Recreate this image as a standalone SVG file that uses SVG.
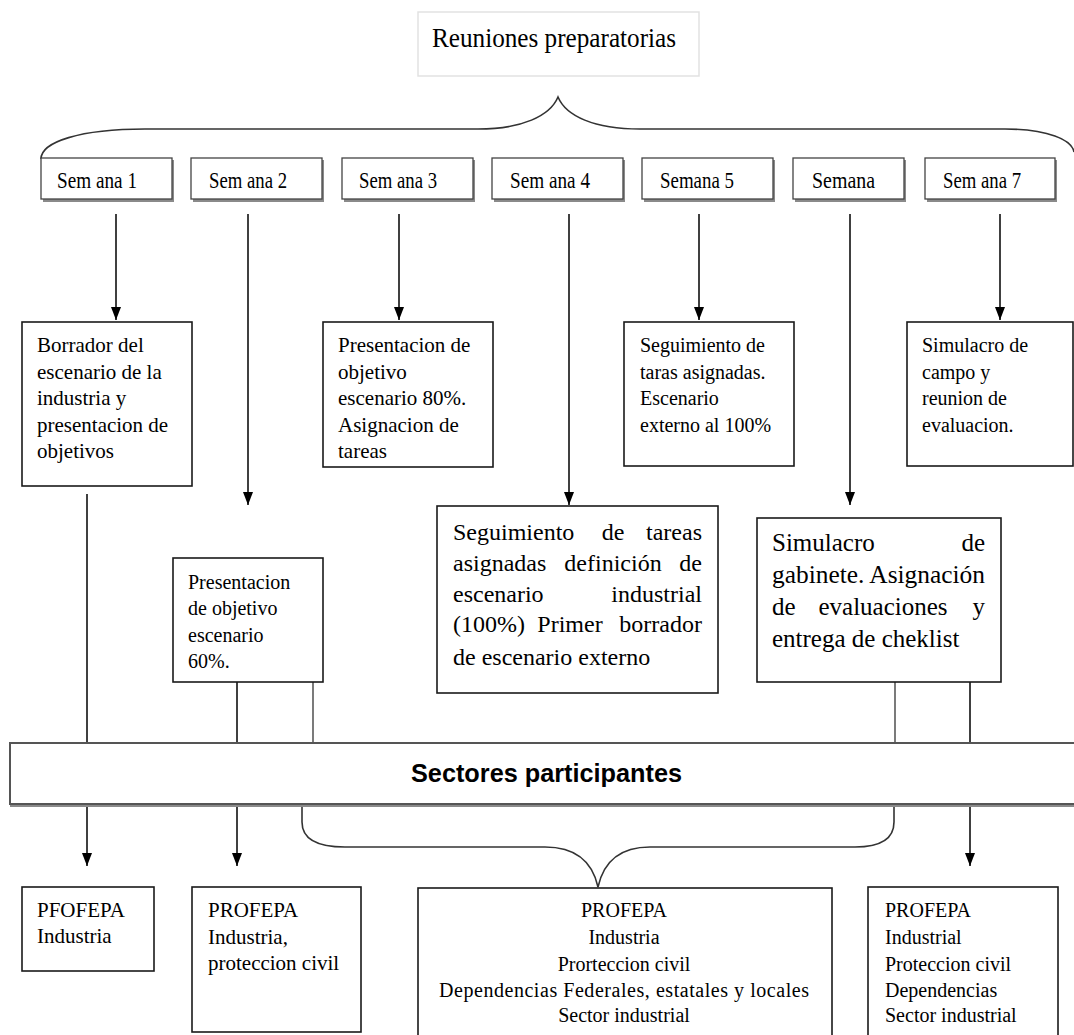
<svg xmlns="http://www.w3.org/2000/svg" width="1074" height="1035" viewBox="0 0 1074 1035">
<defs>
<marker id="ah" viewBox="0 0 13 10" refX="13" refY="5" markerWidth="13" markerHeight="10" markerUnits="userSpaceOnUse" orient="auto">
<path d="M0,0 L13,5 L0,10 z" fill="#000"/>
</marker>
<style>
.box{fill:#fff;stroke:#1a1a1a;stroke-width:1.6}
.wk{fill:#fff;stroke:#444;stroke-width:1.3}
.sh{fill:#8a8a8a}
.t{font-family:"Liberation Serif","Times New Roman",serif;fill:#000}
.s21{font-size:21px}
.s20{font-size:20px}
.s24{font-size:24px}
.s25{font-size:25px}
.wl{font-size:24px}
.mid{text-anchor:middle}
.end{text-anchor:end}
.conn path{fill:none;stroke:#000;stroke-width:1.5}
.conn path.arr{marker-end:url(#ah)}
.conn path.brace{stroke:#333;stroke-width:1.6}
</style>
</defs>
<rect width="1074" height="1035" fill="#fff"/>

<g id="connectors" class="conn">
<path class="brace" d="M41,159 C41,142 80,129 145,129 L478,129 C522,129 550,116 558,97 C566,116 594,129 640,129 L1005,129 C1048,129 1072,140 1074,152"/>
<path class="arr" d="M116,214 V320"/>
<path class="arr" d="M248,214 V505"/>
<path class="arr" d="M399,214 V320"/>
<path class="arr" d="M569,214 V505"/>
<path class="arr" d="M699,214 V320"/>
<path class="arr" d="M850,214 V505"/>
<path class="arr" d="M1000,214 V320"/>
<path class="arr" d="M87,494 V866"/>
<path class="arr" d="M237,682 V866"/>
<path class="arr" d="M970,682 V866"/>
<path d="M313,682 V743" style="stroke:#333;stroke-width:1.3"/>
<path d="M895,682 V743" style="stroke:#333;stroke-width:1.3"/>
<path class="brace" d="M302,805 L302,822 C302,839 318,847 345,847 L545,847 C574,847 592,860 598,887 C604,860 622,847 650,847 L855,847 C880,847 894,839 894,822 L894,805"/>
</g>

<g id="reuniones">
<rect x="418" y="12" width="281" height="64" fill="#fff" stroke="#e2e2e2" stroke-width="1.5"/>
<text class="t" x="432" y="47" font-size="27" textLength="244" lengthAdjust="spacingAndGlyphs">Reuniones preparatorias</text>
</g>

<g id="semana1">
<rect class="sh" x="43" y="160" width="131" height="42"/>
<rect class="wk" x="41" y="158" width="131" height="41"/>
<text class="t wl" x="57" y="188" textLength="80" lengthAdjust="spacingAndGlyphs">Sem ana 1</text>
</g>
<g id="semana2">
<rect class="sh" x="193" y="160" width="131" height="42"/>
<rect class="wk" x="191" y="158" width="131" height="41"/>
<text class="t wl" x="209" y="188" textLength="78" lengthAdjust="spacingAndGlyphs">Sem ana 2</text>
</g>
<g id="semana3">
<rect class="sh" x="344" y="160" width="131" height="42"/>
<rect class="wk" x="342" y="158" width="131" height="41"/>
<text class="t wl" x="359" y="188" textLength="78" lengthAdjust="spacingAndGlyphs">Sem ana 3</text>
</g>
<g id="semana4">
<rect class="sh" x="494" y="160" width="131" height="42"/>
<rect class="wk" x="492" y="158" width="131" height="41"/>
<text class="t wl" x="510" y="188" textLength="80" lengthAdjust="spacingAndGlyphs">Sem ana 4</text>
</g>
<g id="semana5">
<rect class="sh" x="644" y="160" width="131" height="42"/>
<rect class="wk" x="642" y="158" width="131" height="41"/>
<text class="t wl" x="660" y="188" textLength="74" lengthAdjust="spacingAndGlyphs">Semana 5</text>
</g>
<g id="semana6">
<rect class="sh" x="795" y="160" width="111" height="42"/>
<rect class="wk" x="793" y="158" width="111" height="41"/>
<text class="t wl" x="812" y="188" textLength="63" lengthAdjust="spacingAndGlyphs">Semana</text>
</g>
<g id="semana7">
<rect class="sh" x="927" y="160" width="130" height="42"/>
<rect class="wk" x="925" y="158" width="130" height="41"/>
<text class="t wl" x="943" y="188" textLength="78" lengthAdjust="spacingAndGlyphs">Sem ana 7</text>
</g>

<g id="borrador">
<rect class="box" x="22" y="322" width="170" height="164"/>
<text class="t s21" x="37" y="352">Borrador del</text>
<text class="t s21" x="37" y="378.5">escenario de la</text>
<text class="t s21" x="37" y="405">industria y</text>
<text class="t s21" x="37" y="431.5">presentacion de</text>
<text class="t s21" x="37" y="458">objetivos</text>
</g>

<g id="presentacion80">
<rect class="box" x="323" y="322" width="170" height="145"/>
<text class="t s21" x="338" y="352">Presentacion de</text>
<text class="t s21" x="338" y="378.5">objetivo</text>
<text class="t s21" x="338" y="405">escenario 80%.</text>
<text class="t s21" x="338" y="431.5">Asignacion de</text>
<text class="t s21" x="338" y="458">tareas</text>
</g>

<g id="seguimiento-taras">
<rect class="box" x="624" y="322" width="170" height="144"/>
<text class="t s20" x="640" y="352">Seguimiento de</text>
<text class="t s20" x="640" y="378.5">taras asignadas.</text>
<text class="t s20" x="640" y="405">Escenario</text>
<text class="t s20" x="640" y="431.5">externo al 100%</text>
</g>

<g id="simulacro-campo">
<rect class="box" x="907" y="322" width="166" height="144"/>
<text class="t s20" x="922" y="352">Simulacro de</text>
<text class="t s20" x="922" y="378.5">campo y</text>
<text class="t s20" x="922" y="405">reunion de</text>
<text class="t s20" x="922" y="431.5">evaluacion.</text>
</g>

<g id="presentacion60">
<rect class="box" x="173" y="558" width="150" height="124"/>
<text class="t s20" x="188" y="589">Presentacion</text>
<text class="t s20" x="188" y="615">de objetivo</text>
<text class="t s20" x="188" y="642">escenario</text>
<text class="t s20" x="188" y="668">60%.</text>
</g>

<g id="seguimiento-tareas">
<rect class="box" x="437" y="506" width="281" height="187"/>
<text class="t s24" x="453" y="540">Seguimiento</text>
<text class="t s24 mid" x="613" y="540">de</text>
<text class="t s24 end" x="702" y="540">tareas</text>
<text class="t s24" x="453" y="571">asignadas</text>
<text class="t s24 mid" x="613" y="571">definición</text>
<text class="t s24 end" x="702" y="571">de</text>
<text class="t s24" x="453" y="602">escenario</text>
<text class="t s24 end" x="702" y="602">industrial</text>
<text class="t s24" x="453" y="632">(100%)</text>
<text class="t s24 mid" x="570" y="632">Primer</text>
<text class="t s24 end" x="702" y="632">borrador</text>
<text class="t s24" x="453" y="665">de escenario externo</text>
</g>

<g id="simulacro-gabinete">
<rect class="box" x="757" y="518" width="244" height="164"/>
<text class="t s25" x="772" y="551">Simulacro</text>
<text class="t s25 end" x="985" y="551">de</text>
<text class="t s25" x="772" y="583" textLength="213" lengthAdjust="spacingAndGlyphs">gabinete. Asignación</text>
<text class="t s25" x="772" y="615">de</text>
<text class="t s25 mid" x="883" y="615">evaluaciones</text>
<text class="t s25 end" x="985" y="615">y</text>
<text class="t s25" x="772" y="647">entrega de cheklist</text>
</g>

<g id="sectores">
<rect x="10" y="745" width="1070" height="62" fill="#8a8a8a"/>
<rect x="10" y="743" width="1070" height="61" fill="#fff" stroke="#555" stroke-width="2"/>
<text x="411" y="782" font-family="'Liberation Sans', Arial, sans-serif" font-weight="bold" font-size="25" textLength="271" lengthAdjust="spacingAndGlyphs">Sectores participantes</text>
</g>

<g id="pfofepa">
<rect class="box" x="22" y="887" width="132" height="84"/>
<text class="t s21" x="37" y="917">PFOFEPA</text>
<text class="t s21" x="37" y="943">Industria</text>
</g>

<g id="profepa2">
<rect class="box" x="192" y="887" width="169" height="145"/>
<text class="t s21" x="208" y="917">PROFEPA</text>
<text class="t s21" x="208" y="944">Industria,</text>
<text class="t s21" x="208" y="970">proteccion civil</text>
</g>

<g id="profepa3">
<rect class="box" x="418" y="888" width="414" height="160"/>
<text class="t s20 mid" x="624" y="917">PROFEPA</text>
<text class="t s20 mid" x="624" y="944">Industria</text>
<text class="t s20 mid" x="624" y="971">Prorteccion civil</text>
<text class="t s20 mid" x="624" y="997" textLength="370" lengthAdjust="spacing">Dependencias Federales, estatales y locales</text>
<text class="t s20 mid" x="624" y="1022">Sector industrial</text>
</g>

<g id="profepa4">
<rect class="box" x="868" y="887" width="190" height="160"/>
<text class="t s20" x="885" y="917">PROFEPA</text>
<text class="t s20" x="885" y="944">Industrial</text>
<text class="t s20" x="885" y="971">Proteccion civil</text>
<text class="t s20" x="885" y="997">Dependencias</text>
<text class="t s20" x="885" y="1022">Sector industrial</text>
</g>
</svg>
